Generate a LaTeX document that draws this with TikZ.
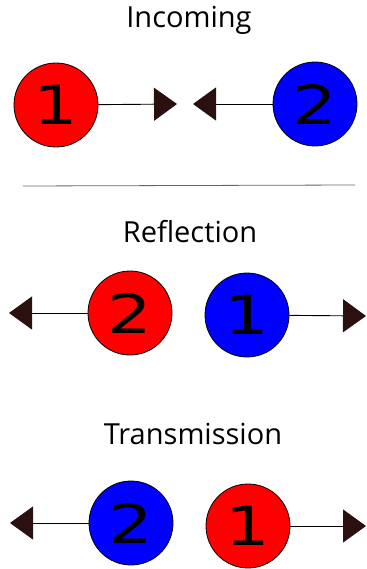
\documentclass[tikz,border=0pt]{standalone}
\usepackage{fontspec}
\usepackage{graphicx}
\setmainfont{Open Sans}
\newfontfamily\digitfont{DejaVu Sans}
\usetikzlibrary{arrows.meta}
\definecolor{tipbrown}{HTML}{2B1010}
\tikzset{
  ball/.style={circle, draw=black, line width=0.8pt, minimum size=84pt, inner sep=0pt,
               font=\digitfont\fontsize{54}{54}\selectfont},
  redball/.style={ball, fill=red},
  blueball/.style={ball, fill=blue},
  motion/.style={draw=black, line width=0.9pt,
                 -{Triangle[length=23pt,width=33pt,fill=tipbrown,color=tipbrown]}},
  heading/.style={font=\fontsize{29}{29}\selectfont, inner sep=0pt}
}
\newcommand{\widedigit}[1]{\scalebox{1.3}[1]{#1}}
\begin{document}
\begin{tikzpicture}[x=1pt,y=-1pt]
  \useasboundingbox (0,0) rectangle (366,569);

  % incoming pair
  \node[heading] (tin) at (189,20) {Incoming};
  \node[redball]  (a1) at (56,105)  {\widedigit{1}};
  \node[blueball] (a2) at (315,104) {\widedigit{2}};
  \coordinate (a1end) at (177,104);
  \coordinate (a2end) at (193,104);
  \draw[motion] (a1) -- (a1end);
  \draw[motion] (a2) -- (a2end);

  % separator
  \coordinate (s1) at (23,186);
  \coordinate (s2) at (355,185);
  \draw[gray!80!black, line width=0.8pt] (s1) -- (s2);

  % reflection
  \node[heading] (tref) at (190,232) {Reflection};
  \node[redball]  (r2) at (130,313) {\widedigit{2}};
  \node[blueball] (r1) at (247,315) {\widedigit{1}};
  \coordinate (r2end) at (9,313);
  \coordinate (r1end) at (366,316);
  \draw[motion] (r2) -- (r2end);
  \draw[motion] (r1) -- (r1end);

  % transmission
  \node[heading] (ttr) at (193,434) {Transmission};
  \node[blueball] (t2) at (131,523) {\widedigit{2}};
  \node[redball]  (t1) at (248,526) {\widedigit{1}};
  \coordinate (t2end) at (10,523);
  \coordinate (t1end) at (366,526);
  \draw[motion] (t2) -- (t2end);
  \draw[motion] (t1) -- (t1end);
\end{tikzpicture}
\end{document}
